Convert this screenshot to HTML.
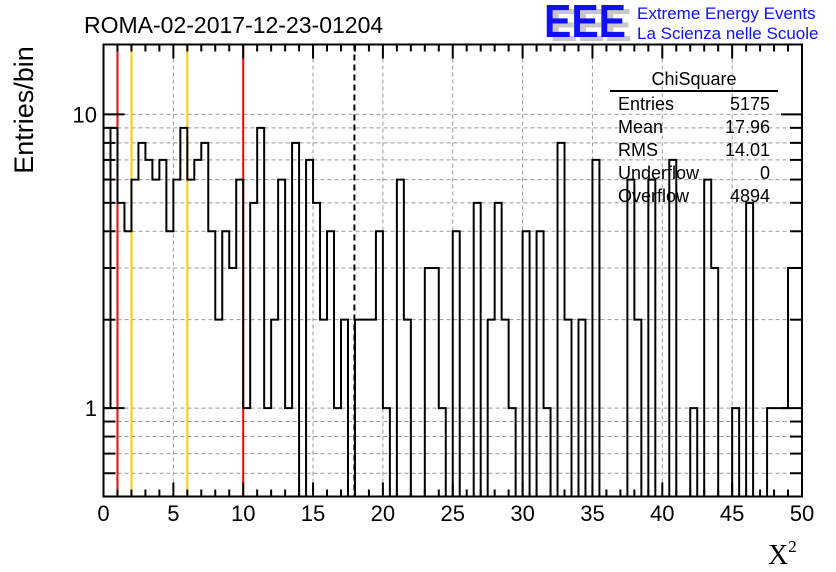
<!DOCTYPE html>
<html><head><meta charset="utf-8"><style>
body{margin:0;background:#fff;}
svg{display:block;font-family:"Liberation Sans",sans-serif;}
</style></head><body>
<svg id="c" width="836" height="572" viewBox="0 0 836 572">
<rect width="836" height="572" fill="#fff"/>
<text x="84" y="33" font-size="23">ROMA-02-2017-12-23-01204</text>
<g>
<text x="550" y="41" font-size="46" font-weight="bold" fill="#c8c8c8" textLength="82" lengthAdjust="spacingAndGlyphs">EEE</text>
<text x="544" y="37" font-size="46" font-weight="bold" fill="#1010ff" textLength="82" lengthAdjust="spacingAndGlyphs">EEE</text>
<text x="637" y="19" font-size="17" fill="#1010ff">Extreme Energy Events</text>
<text x="637" y="39" font-size="17" fill="#1010ff">La Scienza nelle Scuole</text>
</g>
<g id="grid"></g>
<g id="lines"></g>
<path id="hist" fill="none" stroke="#000" stroke-width="2"/>
<g id="axes"></g>
<g font-size="18">
<text x="694" y="85" text-anchor="middle">ChiSquare</text>
<line x1="610" y1="91" x2="778" y2="91" stroke="#000" stroke-width="2"/>
<text x="618" y="110">Entries</text><text x="770" y="110" text-anchor="end">5175</text>
<text x="618" y="133">Mean</text><text x="770" y="133" text-anchor="end">17.96</text>
<text x="618" y="156">RMS</text><text x="770" y="156" text-anchor="end">14.01</text>
<text x="618" y="179">Underflow</text><text x="770" y="179" text-anchor="end">0</text>
<text x="618" y="202">Overflow</text><text x="770" y="202" text-anchor="end">4894</text>
</g>
<text transform="translate(33,110) rotate(-90)" font-size="27" text-anchor="middle">Entries/bin</text>
<text x="768" y="564" font-size="28" font-family="Liberation Serif, serif">X<tspan font-size="17" dy="-12">2</tspan></text>
</svg>
<script>
const counts=[1,9,5,4,6,8,7,6,7,4,6,9,6,7,8,4,2,4,3,6,1,5,9,1,2,6,1,8,0,7,5,2,4,1,2,0,2,2,2,4,1,0,6,2,0,0,3,3,1,0,4,0,0,5,0,2,5,2,1,0,4,0,4,1,0,8,2,0,2,0,7,0,0,0,0,6,2,0,6,0,0,7,0,0,1,0,6,3,0,0,1,0,5,0,0,1,1,1,3,3];
const xMin=0,xMax=50,yMin=0.5,yMax=17.3;
const xTicks=[0,5,10,15,20,25,30,35,40,45,50];
const yTickLabels=[1,10];
const redLines=[1,10];
const orangeLines=[2,6];
const meanLine=[17.96];
const L=103.5,R=802,T=44.5,B=496.5;
const X=v=>L+(v-xMin)/(xMax-xMin)*(R-L);
const Y=v=>B-(Math.log10(v)-Math.log10(yMin))/(Math.log10(yMax)-Math.log10(yMin))*(B-T);
const NS="http://www.w3.org/2000/svg";
function mk(p,t,a){const e=document.createElementNS(NS,t);for(const k in a)e.setAttribute(k,a[k]);p.appendChild(e);return e;}
const grid=document.getElementById('grid'),axes=document.getElementById('axes'),lines=document.getElementById('lines');
xTicks.slice(1,-1).forEach(v=>{const e=mk(grid,'line',{x1:X(v),x2:X(v),y1:T,y2:B,stroke:'#999','stroke-dasharray':'4,3'});

});
const yMinor=[0.6,0.7,0.8,0.9,1,2,3,4,5,6,7,8,9,10];
yMinor.forEach(v=>{const e=mk(grid,'line',{x1:L,x2:R,y1:Y(v),y2:Y(v),stroke:'#999','stroke-dasharray':'4,3'});

});
function vline(v,col,dash,name){const e=mk(lines,'line',{x1:X(v),x2:X(v),y1:T,y2:B,stroke:col,'stroke-width':2});if(dash)e.setAttribute('stroke-dasharray',dash);

}
redLines.forEach(v=>vline(v,'#ff0000',null,'red-threshold-line'));
orangeLines.forEach(v=>vline(v,'#ffcc00',null,'orange-threshold-line'));
meanLine.forEach(v=>vline(v,'#000','6,4','mean-line'));
const bw=(xMax-xMin)/counts.length;
let d='';
counts.forEach((c,i)=>{const y=c>0?Y(c):B;const x0=X(xMin+i*bw),x1=X(xMin+(i+1)*bw);d+=(i===0?'M'+x0+','+y:'L'+x0+','+y)+'L'+x1+','+y;});
document.getElementById('hist').setAttribute('d',d);
mk(axes,'rect',{x:L,y:T,width:R-L,height:B-T,fill:'none',stroke:'#000','stroke-width':2});
for(let v=xMin;v<=xMax;v++){const big=v%5===0;const len=big?14:7;
mk(axes,'line',{x1:X(v),x2:X(v),y1:B,y2:B-len,stroke:'#000','stroke-width':2});
mk(axes,'line',{x1:X(v),x2:X(v),y1:T,y2:T+len,stroke:'#000','stroke-width':2});}
xTicks.forEach(v=>{const t=mk(axes,'text',{x:X(v),y:521,'font-size':22,'text-anchor':'middle'});t.textContent=v;

});
yMinor.forEach(v=>{const big=(v===1||v===10);const len=big?21:12;
mk(axes,'line',{x1:L,x2:L+len,y1:Y(v),y2:Y(v),stroke:'#000','stroke-width':2});
mk(axes,'line',{x1:R,x2:R-len,y1:Y(v),y2:Y(v),stroke:'#000','stroke-width':2});});
yTickLabels.forEach(v=>{const t=mk(axes,'text',{x:97,y:Y(v)+8,'font-size':22,'text-anchor':'end'});t.textContent=v;

});
</script>
</body></html>
